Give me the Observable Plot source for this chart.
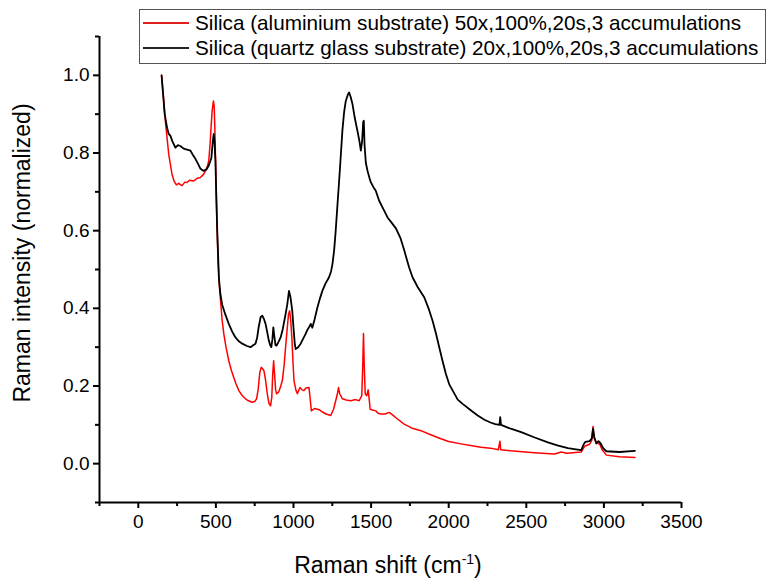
<!DOCTYPE html>
<html><head><meta charset="utf-8">
<script src="https://cdn.jsdelivr.net/npm/d3@7"></script>
<script src="https://cdn.jsdelivr.net/npm/@observablehq/plot@0.6"></script>
<style>
body{margin:0;background:#fff;font-family:"Liberation Sans",Arial,sans-serif;}
#wrap{position:relative;width:766px;height:578px;overflow:hidden;}
#legend{position:absolute;left:139px;top:9px;width:627px;height:55px;border:1.5px solid #555;background:#fff;box-sizing:border-box;}
.sw{position:absolute;left:3px;width:46px;height:0;border-top:2px solid #000;}
.lt{position:absolute;left:55px;font-size:20.7px;line-height:24px;white-space:nowrap;color:#000;}
</style></head>
<body><div id="wrap"><div id="chart"></div>
<div id="legend">
<div class="sw" style="top:12px;border-color:#e0201e"></div><div class="lt" style="top:1px">Silica (aluminium substrate) 50x,100%,20s,3 accumulations</div>
<div class="sw" style="top:37px;border-color:#222"></div><div class="lt" style="top:26px">Silica (quartz glass substrate) 20x,100%,20s,3 accumulations</div>
</div></div>
<script>
// Red: Silica (aluminium substrate)
const redX = [150,165,174,185,196,207,217,230,245,260,282,300,314,330,357,380,400,420,433,445,454,462,469,476,484,489,493,498,502,508,514,522,530,540,551,565,583,600,615,630,648,670,691,710,734,750,762,772,783,792,800,809,820,831,842,852,860,866,872,878,885,891,905,918,928,940,949,960,968,975,982,990,997,1003,1015,1025,1035,1042,1055,1067,1080,1100,1108,1115,1135,1154,1170,1186,1210,1240,1258,1272,1283,1290,1298,1315,1340,1369,1400,1423,1440,1446,1451,1456,1462,1472,1481,1488,1494,1510,1530,1545,1563,1590,1617,1640,1670,1713,1760,1821,1880,1950,2000,2079,2150,2208,2269,2320,2330,2335,2400,2531,2600,2682,2725,2760,2854,2876,2908,2922,2930,2938,2951,2973,2990,3016,3100,3200];
const redY = [1.0,0.93,0.883,0.84,0.797,0.77,0.746,0.728,0.718,0.722,0.716,0.725,0.724,0.73,0.728,0.735,0.737,0.745,0.754,0.765,0.78,0.82,0.866,0.91,0.934,0.92,0.866,0.78,0.695,0.6,0.522,0.46,0.42,0.37,0.334,0.3,0.265,0.24,0.222,0.205,0.188,0.175,0.167,0.162,0.158,0.16,0.167,0.19,0.235,0.248,0.245,0.24,0.215,0.18,0.155,0.149,0.17,0.23,0.265,0.23,0.19,0.18,0.185,0.2,0.214,0.255,0.30,0.35,0.385,0.394,0.37,0.32,0.26,0.214,0.19,0.18,0.19,0.196,0.19,0.188,0.195,0.196,0.165,0.136,0.142,0.14,0.138,0.133,0.128,0.124,0.14,0.162,0.18,0.196,0.18,0.167,0.164,0.162,0.165,0.162,0.175,0.25,0.335,0.25,0.18,0.175,0.19,0.165,0.14,0.138,0.136,0.13,0.128,0.128,0.132,0.125,0.115,0.102,0.092,0.085,0.075,0.064,0.057,0.051,0.046,0.042,0.04,0.036,0.058,0.036,0.033,0.029,0.027,0.025,0.03,0.027,0.03,0.045,0.05,0.06,0.096,0.065,0.055,0.05,0.035,0.022,0.018,0.016];
// Black: Silica (quartz glass substrate)
const blackX = [150,160,170,185,195,207,220,239,255,271,290,303,320,336,352,368,385,400,412,421,440,453,465,471,480,486,491,497,502,508,514,519,528,540,560,583,605,626,648,670,700,723,740,755,766,775,788,799,810,820,830,841,850,857,864,870,876,884,891,905,917,930,949,960,971,980,992,1000,1008,1014,1030,1046,1060,1078,1090,1100,1111,1121,1135,1154,1170,1186,1205,1229,1242,1251,1262,1272,1283,1294,1305,1315,1326,1337,1350,1358,1368,1380,1395,1412,1425,1434,1442,1449,1453,1458,1466,1477,1490,1498,1515,1530,1552,1580,1606,1633,1660,1690,1713,1745,1767,1800,1843,1870,1896,1918,1939,1960,1982,2003,2026,2058,2090,2140,2187,2230,2269,2300,2327,2332,2337,2400,2467,2550,2639,2700,2768,2820,2854,2870,2880,2908,2922,2930,2938,2951,2965,2979,2995,3016,3100,3200];
const blackY = [1.0,0.95,0.9,0.866,0.85,0.844,0.83,0.814,0.82,0.818,0.812,0.81,0.808,0.806,0.795,0.785,0.772,0.76,0.756,0.754,0.758,0.767,0.78,0.788,0.83,0.849,0.83,0.78,0.7,0.608,0.54,0.48,0.44,0.41,0.385,0.36,0.34,0.325,0.315,0.309,0.303,0.30,0.305,0.309,0.325,0.35,0.377,0.381,0.372,0.36,0.34,0.317,0.305,0.30,0.32,0.351,0.33,0.305,0.304,0.315,0.325,0.345,0.385,0.41,0.445,0.43,0.394,0.35,0.31,0.295,0.3,0.309,0.32,0.334,0.345,0.351,0.36,0.35,0.37,0.402,0.425,0.445,0.463,0.48,0.495,0.514,0.55,0.60,0.665,0.728,0.795,0.857,0.905,0.934,0.95,0.956,0.945,0.926,0.89,0.857,0.83,0.806,0.83,0.88,0.883,0.82,0.775,0.754,0.735,0.725,0.712,0.703,0.677,0.655,0.634,0.62,0.606,0.58,0.55,0.505,0.48,0.455,0.428,0.40,0.368,0.335,0.30,0.265,0.231,0.205,0.188,0.165,0.154,0.138,0.124,0.113,0.106,0.102,0.1,0.12,0.1,0.09,0.081,0.068,0.055,0.047,0.04,0.037,0.035,0.05,0.056,0.058,0.065,0.09,0.068,0.052,0.058,0.052,0.04,0.032,0.03,0.033];

const xTicks = [0,500,1000,1500,2000,2500,3000,3500];
const xMinor = [-250,250,750,1250,1750,2250,2750,3250];
const yTicks = [0.0,0.2,0.4,0.6,0.8,1.0];
const yMinor = [-0.1,0.1,0.3,0.5,0.7,0.9,1.1];

const red = redX.map((x,i)=>({x, y: redY[i]}));
const black = blackX.map((x,i)=>({x, y: blackY[i]}));

const plot = Plot.plot({
  width: 766, height: 578,
  marginLeft: 99, marginRight: 85, marginTop: 36, marginBottom: 76,
  x: {domain: [-250, 3500]},
  y: {domain: [-0.1, 1.1]},
  style: {fontFamily: "'Liberation Sans', Arial, sans-serif", fontSize: "19px", color: "#000", background: "transparent"},
  marks: [
    Plot.line(red, {x: "x", y: "y", stroke: "#ff0000", strokeWidth: 1.5}),
    Plot.line(black, {x: "x", y: "y", stroke: "#000", strokeWidth: 1.8}),
    Plot.ruleX([-250], {stroke: "#000", strokeWidth: 2}),
    Plot.ruleY([-0.1], {stroke: "#000", strokeWidth: 2}),
    Plot.axisX(xTicks, {tickSize: 6, tickPadding: 6, label: null, fontSize: 19, tickFormat: d => String(d), stroke: "#000", strokeWidth: 2}),
    Plot.axisX(xMinor, {tickSize: 4, tickFormat: () => "", label: null, stroke: "#000", strokeWidth: 2}),
    Plot.axisY(yTicks, {tickSize: 6, tickPadding: 4, label: null, fontSize: 19, tickFormat: d3.format(".1f"), stroke: "#000", strokeWidth: 2}),
    Plot.axisY(yMinor, {tickSize: 4, tickFormat: () => "", label: null, stroke: "#000", strokeWidth: 2})
  ]
});
document.getElementById("chart").appendChild(plot);
const svg = d3.select(plot);
svg.append("text")
  .attr("transform", "translate(22,253) rotate(-90)")
  .attr("text-anchor", "middle").attr("dominant-baseline", "central")
  .attr("font-size", 23).attr("fill", "#000")
  .text("Raman intensity (normalized)");
const xt = svg.append("text")
  .attr("x", 388).attr("y", 573)
  .attr("text-anchor", "middle")
  .attr("font-size", 23).attr("fill", "#000");
xt.append("tspan").text("Raman shift (cm");
xt.append("tspan").attr("font-size", 14).attr("dy", -9).text("-1");
xt.append("tspan").attr("dy", 9).text(")");
</script></body></html>
